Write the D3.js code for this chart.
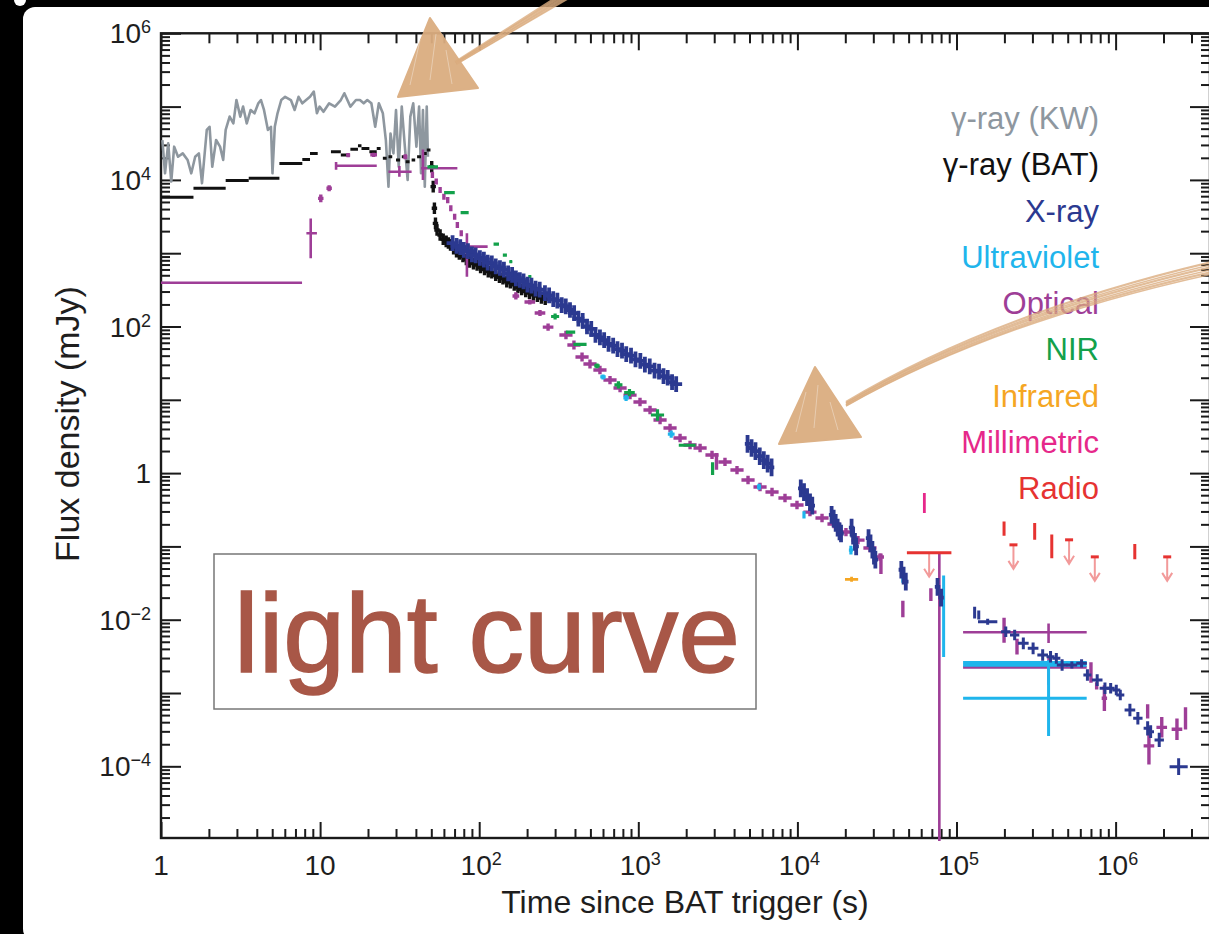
<!DOCTYPE html>
<html>
<head>
<meta charset="utf-8">
<script src="https://cdn.jsdelivr.net/npm/d3@7"></script>
<style>
  html, body { margin: 0; padding: 0; background: #000; overflow: hidden; }
  text { font-family: "Liberation Sans", Arial, Helvetica, sans-serif; }
</style>
</head>
<body>
<svg id="chart" width="1209" height="934"></svg>
<script>
// time since trigger in s, flux density in mJy

// gamma-ray, Konus-Wind (light curve)
const kwTime = [1.02,1.06,1.11,1.16,1.21,1.28,1.37,1.47,1.55,1.64,1.73,1.81,1.94,2.02,2.10,2.22,2.35,2.46,2.55,2.70,
  2.85,2.98,3.15,3.28,3.46,3.66,3.87,4.09,4.25,4.44,4.70,4.91,5.02,5.19,5.40,5.70,6.03,6.55,6.92,7.32,
  7.73,8.17,8.64,9.13,9.55,9.93,10.5,11.4,12.4,13.5,14.2,15.5,16.8,17.8,18.8,19.8,21.0,22.2,23.4,24.8,
  25.9,26.9,27.7,28.9,30.0,31.2,32.6,34.1,35.5,36.9,38.5,40.3,41.9,43.1,44.3,45.5,46.8,47.6];
const kwFlux = [35000,12300,31500,9500,28400,20700,23000,18700,12300,20700,23000,9000,48000,53000,15100,35000,28400,18700,48000,73000,
  59000,123000,73000,100000,59000,90000,81000,111000,123000,90000,48000,53000,12300,53000,81000,123000,136000,123000,90000,136000,
  111000,123000,136000,160000,81000,100000,85000,111000,100000,123000,152000,100000,123000,123000,111000,123000,111000,53000,111000,81000,
  35000,8100,43000,23000,90000,15100,100000,28400,10000,73000,111000,28400,100000,12300,90000,8100,100000,20700];

// gamma-ray, Swift BAT: binned steps, then single points
const batBinStart = [1.0,1.6,2.55,3.56,5.55,7.73,8.64,11.7,13.5,15.5,17.3,18.2,20.4,22.7,24.8,26.9,30.0,32.6,34.5,37.6,40.7,44.3,46.8];
const batBinEnd   = [1.6,2.55,3.56,5.55,7.73,8.64,9.66,13.5,15.0,17.3,18.2,20.4,22.7,24.0,26.2,28.4,31.8,34.5,36.5,39.6,43.1,46.8,49.4];
const batBinFlux  = [5800,7700,9800,10500,16800,19000,23000,24300,21800,26100,29300,26900,24300,26900,19700,20700,18700,20700,17700,18700,20700,23000,25600];
const batTime = [50.3,51.4,52.3,53.1,54.3,56.8,59.4,62,64,66,69,72,75,79,83,87,92,97,102,108,114,120,127,134,141,149,157,166,175,185,196,207,219,232,246,260];
const batFlux = [15100,8100,4100,2550,2070,1770,1550,1450,1380,1300,1150,1050,980,900,820,760,720,690,640,600,560,540,500,470,450,410,395,370,340,320,300,285,270,260,245,235];

// X-ray
const xrayTime = [68,72,76,80,85,90,95,101,107,113,120,127,135,143,152,161,170,180,190,201,213,226,240,259,275,292,310,330,350,372,
  395,420,447,476,506,538,574,610,650,695,740,790,840,900,960,1030,1100,1180,1265,1350,1440,1530,1630,1730];
const xrayFlux = [1370,1260,1210,1110,1070,965,935,860,820,745,728,662,628,598,530,505,455,431,412,372,362,328,318,286,265,236,226,196,188,168,
  152,128,119,100,93,77,71,65,58,55,49,47,42,40,35.5,34,30.2,28.6,25,24.2,21,20,17.4,16.4];
const xrayMidTime = [4860,5150,5450,5800,6150,6500,6880,10500,11000,11500,12000,12400,16400,16900,17400,17900,18400,18800,
  21900,22400,23000,23400,28000,28800,29600,30300,30900,45000,46500,48000,76000,80000];
const xrayMidFlux = [2.5,2.2,2.0,1.7,1.5,1.35,1.2,0.62,0.55,0.47,0.40,0.36,0.27,0.24,0.21,0.18,0.16,0.15,
  0.18,0.14,0.115,0.10,0.13,0.11,0.09,0.075,0.066,0.048,0.04,0.033,0.028,0.02];
const xrayLateTime = [1.30e5,1.38e5,1.57e5,2.04e5,2.32e5,2.63e5,3.03e5,3.48e5,3.90e5,4.24e5,4.61e5,5.31e5,6.11e5,6.65e5,7.66e5,
  8.57e5,9.31e5,1.01e6,1.07e6,1.23e6,1.38e6,1.59e6,1.66e6,1.88e6,2.49e6];
const xrayLateFlux = [0.0125,0.0116,0.0094,0.00686,0.00618,0.00476,0.00407,0.0033,0.00313,0.00297,0.00241,0.00241,0.00254,0.00176,0.0015,
  0.00116,0.00116,0.0011,0.00094,0.000587,0.000452,0.00033,0.000297,0.000229,0.0000989];
const xrayLateTErr = [1.01,1.01,1.15,1.07,1.07,1.08,1.08,1.08,1.06,1.06,1.08,1.08,1.08,1.06,1.08,1.08,1.06,1.06,1.06,1.08,1.07,1.06,1.05,1.07,1.14];
const xrayLateFErr = [1.2,1.15,1.1,1.18,1.18,1.2,1.2,1.2,1.2,1.18,1.2,1.12,1.14,1.2,1.2,1.2,1.18,1.18,1.18,1.22,1.22,1.25,1.22,1.25,1.3];

// optical
const optTime = [10.1,11.4,15.0,21.7,34.3,50.8,53.7,56.8,60.0,63.4,66.3,70.1,72.9,77.1,170,208,241,271,351,394,
  443,497,574,664,768,887,1025,1185,1370,1583,1830,2115,2445,2906,3100,3506,4172,4894,5822,6926,
  8356,9940,11990,14280,16990,20190,24030,28580,33020,33500,46000,69000,1.99e5,2.4e5,7.0e5,7.6e5,8.5e5,1.59e6,1.62e6,1.95e6,
  2.43e6,2.75e6];
const optFlux = [5600,7700,21800,22000,20700,11700,9500,7300,5900,5300,4100,3150,2420,1870,261,216,153,98,76.5,56,
  38.4,30.8,25.5,18.6,14.5,11.6,9.33,7.26,5.30,4.12,3.01,2.42,2.20,1.77,1.45,1.42,1.10,0.805,0.646,0.552,
  0.457,0.367,0.294,0.244,0.202,0.157,0.122,0.095,0.0716,0.058,0.014,0.022,0.0072,0.0043,0.0019,0.00125,0.00085,0.00056,0.00019,0.00034,
  0.00032,0.00045];
const optTErr = [1.04,1.04,1.03,1.05,1.03,1.02,1.02,1.02,1.02,1.02,1.02,1.02,1.02,1.02,1.05,1.08,1.08,1.08,1.1,1.1,
  1.1,1.1,1.1,1.1,1.1,1.1,1.1,1.1,1.1,1.1,1.1,1.1,1.1,1.1,1.005,1.1,1.1,1.1,1.1,1.1,
  1.1,1.1,1.1,1.1,1.1,1.1,1.1,1.1,1.06,1.005,1.005,1.01,1.01,1.01,1.02,1.01,1.04,1.005,1.08,1.08,
  1.08,1.005];
const optFErr = [1.13,1.1,1.07,1.07,1.08,1.1,1.1,1.1,1.1,1.1,1.1,1.1,1.1,1.1,1.12,1.08,1.1,1.12,1.14,1.15,
  1.15,1.15,1.14,1.14,1.14,1.14,1.14,1.14,1.14,1.14,1.14,1.14,1.14,1.14,1.3,1.14,1.14,1.14,1.14,1.14,
  1.14,1.14,1.14,1.14,1.14,1.14,1.14,1.14,1.12,1.38,1.3,1.22,1.48,1.28,1.38,1.12,1.5,1.25,1.8,1.38,
  1.4,1.42];
const optBarTime = [2.77,8.73,12.6,31.5,44.3,83.7,78000,3.79e5,3.79e5];
const optBarFlux = [396,1870,15600,12900,14400,1230,0.045,0.00673,0.00224];
const optBarTLo  = [1,8.2,12.4,26.9,43.1,75,77000,1.1e5,1.1e5];
const optBarTHi  = [7.7,9.55,22.7,37.6,72.9,113,79000,6.58e5,6.58e5];
const optBarFLo  = [380,851,13800,11000,10000,479,1e-7,0.0048,0.0013];
const optBarFHi  = [412,2980,17500,15500,26000,1870,0.08,0.0089,0.0031];

// ultraviolet
const uvTime = [600,838,1610,5740,11000,21700,46000];
const uvFlux = [20.5,10.6,3.4,0.65,0.27,0.089,0.041];
const uvTErr = [1.04,1.04,1.05,1.03,1.02,1.03,1.01];
const uvFErr = [1.08,1.1,1.12,1.1,1.12,1.15,1.28];
const uvBarTime = [83000,3.79e5,3.79e5,3.79e5];
const uvBarFlux = [0.017,0.0026,0.0024,0.000845];
const uvBarTLo  = [82000,1.1e5,1.1e5,1.1e5];
const uvBarTHi  = [84000,6.58e5,6.58e5,6.58e5];
const uvBarFLo  = [0.0031,0.0025,0.0023,0.00026];
const uvBarFHi  = [0.04,0.0027,0.0025,0.0028];

// near infrared
const nirTime = [51,65,81,128,145,158,208,274,300,375,430,550,750,880,1320,2030,2930];
const nirFlux = [15100,6700,3570,1330,944,766,478,255,137,84,57,29,16,12.5,6.2,2.4,1.15];
const nirTErr = [1.08,1.08,1.06,1.04,1.03,1.02,1.02,1.02,1.06,1.07,1.1,1.04,1.06,1.08,1.1,1.13,1.005];
const nirFErr = [1.02,1.02,1.02,1.03,1.03,1.03,1.05,1.05,1.1,1.05,1.05,1.08,1.12,1.12,1.2,1.03,1.22];

// infrared, millimetric
const irTime = [21900], irFlux = [0.0356], irTErr = [1.1], irFErr = [1.08];
const mmTime = [62800], mmFlux = [0.39], mmTErr = [1.02], mmFErr = [1.37];

// radio: detections and upper limits
const radioTime = [1.99e5,3.1e5,3.97e5,1.32e6];
const radioFlux = [0.175,0.16,0.10,0.085];
const radioFErr = [1.25,1.3,1.45,1.27];
const radioLimTime = [6.73e4,2.28e5,5.1e5,7.4e5,2.11e6];
const radioLimFlux = [0.082,0.105,0.123,0.072,0.072];
const radioLimTErr = [1.38,1.03,1.03,1.03,1.0];

const legendLabels = ["\u03b3-ray (KW)","\u03b3-ray (BAT)","X-ray","Ultraviolet","Optical","NIR","Infrared","Millimetric","Radio"];
const yLabelExps = [6,4,2,0,-2,-4];
const xLabelExps = [0,1,2,3,4,5,6];

// ---------------------------------------------------------------
const colors = ["#8e979f","#111111","#2b3990","#1fb5ec","#9e3e97","#13a14b","#f5a623","#e6288a","#e63331"];
const limColor = "#f29a9a";

const svg = d3.select("#chart");
const width = +svg.attr("width");
const height = +svg.attr("height");

const plotL = 161, plotR = 1210, plotT = 33.3, plotB = 838;
const x = d3.scaleLog().domain([1, 3.92e6]).range([plotL, plotR]);
const y = d3.scaleLog().domain([1.052e-5, 1e6]).range([plotB, plotT]);

// photo frame: black edge with white page
svg.append("rect").attr("width", width).attr("height", height).attr("fill", "#000");
svg.append("rect").attr("x", 23).attr("y", 7).attr("width", width).attr("height", height)
  .attr("rx", 12).attr("fill", "#fff");
svg.append("circle").attr("cx", 20).attr("cy", 0).attr("r", 6).attr("fill", "#fff");

svg.append("clipPath").attr("id", "plotclip")
  .append("rect").attr("x", plotL).attr("y", plotT).attr("width", plotR - plotL).attr("height", plotB - plotT + 3);

// ticks
const xMax = x.domain()[1];
const xMajor = xLabelExps.map(e => Math.pow(10, e));
const xMinor = [];
for (let e = 0; e <= 6; e++) for (let m = 2; m <= 9; m++) if (m * Math.pow(10, e) < xMax) xMinor.push(m * Math.pow(10, e));
const yMajor = d3.range(-4, 7).map(e => Math.pow(10, e));
const yMinor = [];
for (let e = -5; e <= 5; e++) for (let m = 2; m <= 9; m++) {
  const v = m * Math.pow(10, e);
  if (v > y.domain()[0]) yMinor.push(v);
}

function styleAxis(g) {
  g.select(".domain").remove();
  g.selectAll(".tick line").attr("stroke", "#1a1a1a").attr("stroke-width", 2);
  g.selectAll(".tick text").remove();
}
const axes = svg.append("g");
axes.append("g").attr("transform", `translate(0,${plotB})`)
  .call(d3.axisBottom(x).tickValues(xMajor).tickSize(-16).tickSizeOuter(0)).call(styleAxis);
axes.append("g").attr("transform", `translate(0,${plotB})`)
  .call(d3.axisBottom(x).tickValues(xMinor).tickSize(-9).tickSizeOuter(0)).call(styleAxis);
axes.append("g").attr("transform", `translate(0,${plotT})`)
  .call(d3.axisTop(x).tickValues(xMajor).tickSize(-17).tickSizeOuter(0)).call(styleAxis);
axes.append("g").attr("transform", `translate(0,${plotT})`)
  .call(d3.axisTop(x).tickValues(xMinor).tickSize(-10).tickSizeOuter(0)).call(styleAxis);
axes.append("g").attr("transform", `translate(${plotL},0)`)
  .call(d3.axisLeft(y).tickValues(yMajor).tickSize(-20).tickSizeOuter(0)).call(styleAxis);
axes.append("g").attr("transform", `translate(${plotL},0)`)
  .call(d3.axisLeft(y).tickValues(yMinor).tickSize(-9).tickSizeOuter(0)).call(styleAxis);
axes.append("g").attr("transform", `translate(${plotR},0)`)
  .call(d3.axisRight(y).tickValues(yMajor).tickSize(-20).tickSizeOuter(0)).call(styleAxis);
axes.append("g").attr("transform", `translate(${plotR},0)`)
  .call(d3.axisRight(y).tickValues(yMinor).tickSize(-9).tickSizeOuter(0)).call(styleAxis);

axes.append("rect").attr("x", plotL).attr("y", plotT).attr("width", plotR - plotL).attr("height", plotB - plotT)
  .attr("fill", "none").attr("stroke", "#1a1a1a").attr("stroke-width", 2.4);

// power-of-ten labels
function powLabel(sel, e) {
  if (e === 0) { sel.text("1"); return; }
  if (e === 1) { sel.text("10"); return; }
  sel.append("tspan").text("10");
  sel.append("tspan").attr("dy", -10).attr("font-size", 18)
    .text(e < 0 ? "\u2212" + (-e) : String(e));
}
svg.append("g").attr("font-size", 28).attr("fill", "#1e1e1e").attr("text-anchor", "end")
  .selectAll("text").data(yLabelExps).join("text")
  .attr("x", 151).attr("y", e => y(Math.pow(10, e)) + 10)
  .each(function (e) { powLabel(d3.select(this), e); });
svg.append("g").attr("font-size", 28).attr("fill", "#1e1e1e").attr("text-anchor", "middle")
  .selectAll("text").data(xLabelExps).join("text")
  .attr("x", e => x(Math.pow(10, e)) + (e >= 2 ? 2 : 0)).attr("y", 875)
  .each(function (e) { powLabel(d3.select(this), e); });

svg.append("text").attr("x", 685).attr("y", 913).attr("text-anchor", "middle")
  .attr("font-size", 32).attr("fill", "#1e1e1e").text("Time since BAT trigger (s)");
svg.append("text").attr("transform", "translate(79,424) rotate(-90)").attr("text-anchor", "middle")
  .attr("font-size", 34).attr("fill", "#1e1e1e").text("Flux density (mJy)");

// data
const plot = svg.append("g").attr("clip-path", "url(#plotclip)");

function withFactors(ts, fs, te, fe) {
  return ts.map((t, i) => {
    const a = Array.isArray(te) ? te[i] : te;
    const b = Array.isArray(fe) ? fe[i] : fe;
    return { t, f: fs[i], t0: t / a, t1: t * a, f0: fs[i] / b, f1: fs[i] * b };
  });
}
function withBounds(ts, fs, tlo, thi, flo, fhi) {
  return ts.map((t, i) => ({ t, f: fs[i], t0: tlo[i], t1: thi[i], f0: flo[i], f1: fhi[i] }));
}
function crosses(pts, color, sw) {
  plot.append("g").attr("stroke", color).attr("stroke-width", sw).attr("fill", "none")
    .selectAll("path").data(pts).join("path")
    .attr("d", d => `M${x(d.t0)},${y(d.f)}H${x(d.t1)}M${x(d.t)},${y(d.f1)}V${y(d.f0)}`);
}

// KW line
plot.append("path")
  .datum(kwTime.map((t, i) => ({ t, f: kwFlux[i] })))
  .attr("fill", "none").attr("stroke", colors[0]).attr("stroke-width", 2.6).attr("stroke-linejoin", "round")
  .attr("d", d3.line().x(d => x(d.t)).y(d => y(d.f)));

// BAT
plot.append("g").attr("stroke", colors[1]).attr("stroke-width", 3)
  .selectAll("path").data(batBinStart.map((t, i) => ({ t0: t, t1: batBinEnd[i], f: batBinFlux[i] })))
  .join("path").attr("d", d => `M${x(d.t0)},${y(d.f)}H${x(d.t1)}`);
crosses(withFactors(batTime, batFlux, 1.04, 1.2), colors[1], 3.4);

// optical, NIR, UV
crosses(withBounds(optBarTime, optBarFlux, optBarTLo, optBarTHi, optBarFLo, optBarFHi), colors[4], 2.6);
crosses(withFactors(optTime, optFlux, optTErr, optFErr), colors[4], 3.4);
crosses(withFactors(nirTime, nirFlux, nirTErr, nirFErr), colors[5], 3.2);
crosses(withFactors(uvTime, uvFlux, uvTErr, uvFErr), colors[3], 3.2);
crosses(withBounds(uvBarTime, uvBarFlux, uvBarTLo, uvBarTHi, uvBarFLo, uvBarFHi), colors[3], 3);

// X-ray
crosses(withFactors(xrayTime, xrayFlux, 1.09, 1.28), colors[2], 3.8);
crosses(withFactors(xrayMidTime, xrayMidFlux, 1.04, 1.32), colors[2], 3.8);
crosses(withFactors(xrayLateTime, xrayLateFlux, xrayLateTErr, xrayLateFErr), colors[2], 3);

// infrared, millimetric, radio
crosses(withFactors(irTime, irFlux, irTErr, irFErr), colors[6], 2.8);
crosses(withFactors(mmTime, mmFlux, mmTErr, mmFErr), colors[7], 2.8);
crosses(withFactors(radioTime, radioFlux, 1.005, radioFErr), colors[8], 3);

const lim = plot.append("g").selectAll("g")
  .data(radioLimTime.map((t, i) => ({ t, f: radioLimFlux[i], k: radioLimTErr[i] })))
  .join("g");
lim.append("path").attr("fill", "none").attr("stroke", limColor).attr("stroke-width", 2)
  .attr("d", d => {
    const px = x(d.t), py = y(d.f), tip = py + 24;
    return `M${px},${py}V${tip}M${px - 5},${tip - 8}L${px},${tip}L${px + 5},${tip - 8}`;
  });
lim.append("path").attr("stroke", colors[8]).attr("stroke-width", 3)
  .attr("d", d => {
    const px = x(d.t), py = y(d.f);
    return d.k > 1.05 ? `M${x(d.t / d.k)},${py}H${x(d.t * d.k)}` : `M${px - 4},${py}H${px + 4}`;
  });

// legend
svg.append("g").attr("font-size", 31).attr("text-anchor", "end")
  .selectAll("text").data(legendLabels).join("text")
  .attr("x", 1099).attr("y", (d, i) => 129 + i * 46.25)
  .attr("fill", (d, i) => colors[i]).text(d => d);

// "light curve" annotation box
svg.append("rect").attr("x", 214).attr("y", 554).attr("width", 542).attr("height", 155)
  .attr("fill", "none").attr("stroke", "#777").attr("stroke-width", 1.5);
svg.append("text").attr("x", 234).attr("y", 672).attr("font-size", 111)
  .attr("fill", "#a85747").attr("stroke", "#a85747").attr("stroke-width", 1.6)
  .text("light curve");

// hand-drawn arrows
const tan = "#dbad80";
const sketch = svg.append("g");
function sketchArrow(tri, shaft) {
  sketch.append("path").attr("d", tri).attr("fill", tan).attr("stroke", tan)
    .attr("stroke-width", 2).attr("stroke-linejoin", "round").attr("opacity", 0.95);
  shaft.forEach((d, i) => {
    sketch.append("path").attr("d", d).attr("fill", "none").attr("stroke", tan)
      .attr("stroke-width", i % 2 ? 1.4 : 2.2).attr("opacity", 0.8);
  });
}
const p1 = [0.536, 0.844];
const shaft1 = [-4, -2.5, -1, 0.5, 2, 3.5].map(o =>
  `M${456 + o * 0.35 * p1[0]},${63 + o * 0.35 * p1[1]}L${566 + o * p1[0]},${-4 + o * p1[1]}`);
sketchArrow("M430,18L398,97L478,88Z", shaft1);
sketch.append("path").attr("d", "M420,40L410,85M436,34L430,80M446,50L452,84")
  .attr("stroke", "#fff").attr("stroke-width", 1).attr("opacity", 0.35);

const shaft2 = [-6, -3.5, -1, 1.5, 4, 6].map(o =>
  `M${846},${404 + o * 0.35}Q${994},${318 + o * 0.7} ${1212},${268 + o}`);
sketchArrow("M815,367L779,444L861,437Z", shaft2);
sketch.append("path").attr("d", "M806,392L796,432M818,385L814,428M830,402L838,430")
  .attr("stroke", "#fff").attr("stroke-width", 1).attr("opacity", 0.35);
</script>
</body>
</html>
